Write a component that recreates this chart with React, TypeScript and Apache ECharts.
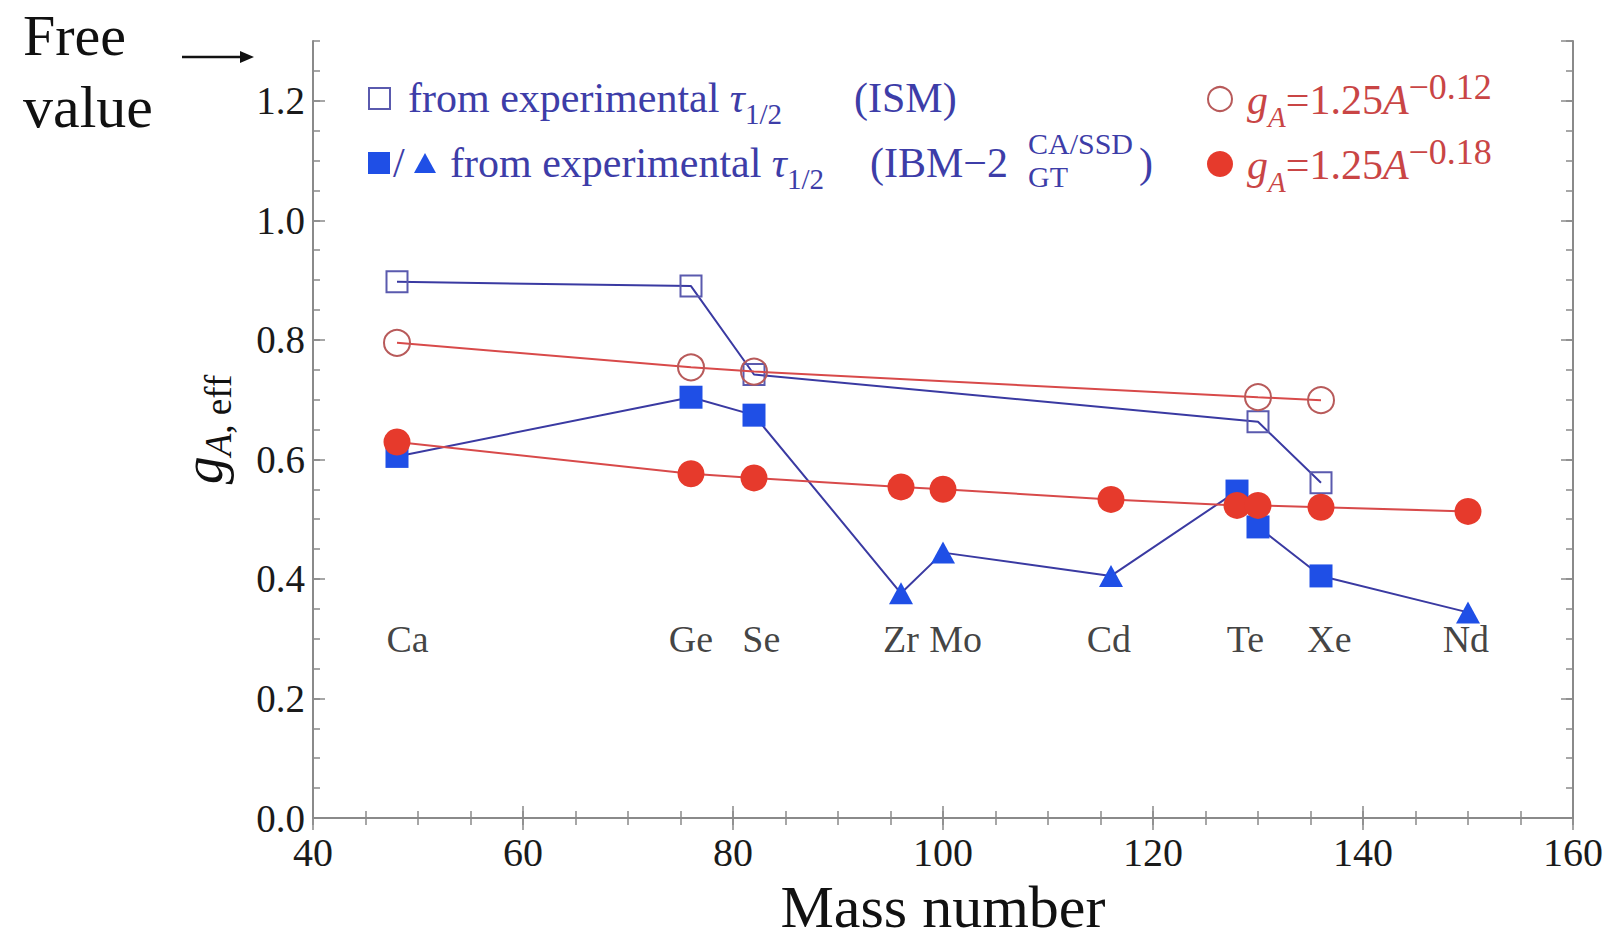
import React, { useEffect, useRef } from 'react';
import * as echarts from 'echarts';

// ---- data ----
const ismMass = [48, 76, 82, 130, 136];
const ismGA = [0.897, 0.89, 0.742, 0.663, 0.561];

const fit012Mass = [48, 76, 82, 130, 136];
const fit012GA = [0.795, 0.754, 0.747, 0.704, 0.699];

const fit018Mass = [48, 76, 82, 96, 100, 116, 128, 130, 136, 150];
const fit018GA = [0.629, 0.576, 0.569, 0.554, 0.55, 0.533, 0.523, 0.523, 0.52, 0.513];

const ibmMass = [48, 76, 82, 96, 100, 116, 128, 130, 136, 150];
const ibmGA = [0.605, 0.704, 0.674, 0.376, 0.444, 0.405, 0.547, 0.487, 0.405, 0.344];
const ibmKind = ['square', 'square', 'square', 'triangle', 'triangle', 'triangle', 'square', 'square', 'square', 'triangle'];

const elementNames = ['Ca', 'Ge', 'Se', 'Zr', 'Mo', 'Cd', 'Te', 'Xe', 'Nd'];
const elementLabelX = [49, 76, 82.7, 96, 101.2, 115.8, 128.8, 136.8, 149.8];
const elementLabelY = 0.3;

const xMin = 40, xMax = 160, xMajor = 20, xMinor = 5;
const yMin = 0, yMax = 1.3, yMajor = 0.2, yMinor = 0.05;

const FONT = '"Liberation Serif", "Times New Roman", serif';
const FRAME = '#8a8a8a';
const BLUE_TEXT = '#3d3da8';
const RED_TEXT = '#c94545';
const BLUE_LINE = '#3a3aa2';
const BLUE_FILL = '#1f4fe6';
const BLUE_OPEN = '#5a5aae';
const RED_LINE = '#d84a4a';
const RED_FILL = '#e63a2c';
const RED_OPEN = '#b85a5a';

function measure(text: string, font: string): number {
  const ctx = document.createElement('canvas').getContext('2d');
  if (!ctx) return text.length * 20;
  ctx.font = font;
  return ctx.measureText(text).width;
}

function makeXAxis(position: 'bottom' | 'top', major: boolean) {
  return {
    type: 'value',
    position,
    min: xMin,
    max: xMax,
    interval: major ? xMajor : xMinor,
    splitLine: { show: false },
    axisLine: { show: major, lineStyle: { color: FRAME, width: 2 } },
    axisTick: { show: true, inside: true, length: major ? 12 : 7, lineStyle: { color: FRAME, width: 1.5 } },
    axisLabel: major && position === 'bottom'
      ? { show: true, fontFamily: FONT, fontSize: 40, color: '#1a1a1a', margin: 14 }
      : { show: false },
    name: major && position === 'bottom' ? 'Mass number' : '',
    nameLocation: 'middle',
    nameGap: 48,
    nameTextStyle: { fontFamily: FONT, fontSize: 60, color: '#111' },
  };
}

function makeYAxis(position: 'left' | 'right', major: boolean) {
  return {
    type: 'value',
    position,
    min: yMin,
    max: yMax,
    interval: major ? yMajor : yMinor,
    splitLine: { show: false },
    axisLine: { show: major, lineStyle: { color: FRAME, width: 2 } },
    axisTick: { show: true, inside: true, length: major ? 12 : 7, lineStyle: { color: FRAME, width: 1.5 } },
    axisLabel: major && position === 'left'
      ? {
          show: true,
          fontFamily: FONT,
          fontSize: 39,
          color: '#1a1a1a',
          margin: 8,
          showMaxLabel: false,
          formatter: (v: number) => v.toFixed(1),
        }
      : { show: false },
    name: major && position === 'left' ? '{g|g}{a|A}{e|, eff}' : '',
    nameLocation: 'middle',
    nameRotate: 90,
    nameGap: 76,
    nameTextStyle: {
      fontFamily: FONT,
      color: '#111',
      rich: {
        g: { fontFamily: FONT, fontSize: 56, fontStyle: 'italic', color: '#111', lineHeight: 68, verticalAlign: 'middle' },
        a: { fontFamily: FONT, fontSize: 37, fontStyle: 'italic', color: '#111', lineHeight: 36, verticalAlign: 'bottom' },
        e: { fontFamily: FONT, fontSize: 37, color: '#111', lineHeight: 36, verticalAlign: 'bottom' },
      },
    },
  };
}

function buildLegend(): any[] {
  const els: any[] = [];
  const mainSize = 42;
  const subSize = 29;
  const tok = (size: number, italic: boolean, fill: string, valign: string, lh: number, padding?: number[]) => ({
    fontFamily: FONT,
    fontSize: size,
    fontStyle: italic ? 'italic' : 'normal',
    fill,
    color: fill,
    lineHeight: lh,
    verticalAlign: valign,
    padding: padding || [0, 0, 0, 0],
  });
  const blueRich = {
    n: tok(mainSize, false, BLUE_TEXT, 'middle', 60),
    t: tok(mainSize, true, BLUE_TEXT, 'middle', 60),
    s: tok(subSize, false, BLUE_TEXT, 'bottom', 30),
    p: tok(mainSize, false, BLUE_TEXT, 'middle', 60, [0, 0, 0, 72]),
    q: tok(mainSize, false, BLUE_TEXT, 'middle', 60, [0, 0, 0, 46]),
  };
  const row1Y = 98;
  const row2Y = 163;

  // row 1 marker: open square
  els.push({
    type: 'rect',
    shape: { x: 369, y: row1Y - 10, width: 21, height: 21 },
    style: { fill: 'none', stroke: BLUE_OPEN, lineWidth: 2 },
  });
  els.push({
    type: 'text',
    x: 408,
    y: row1Y,
    style: {
      text: '{n|from experimental }{t|τ}{s|1/2}{p|(ISM)}',
      rich: blueRich,
      verticalAlign: 'middle',
      align: 'left',
      fill: BLUE_TEXT,
      fontFamily: FONT,
      fontSize: mainSize,
    },
  });

  // row 2 markers: filled square / triangle
  els.push({
    type: 'rect',
    shape: { x: 368, y: row2Y - 11, width: 22, height: 22 },
    style: { fill: BLUE_FILL },
  });
  els.push({
    type: 'text',
    x: 393,
    y: row2Y,
    style: { text: '/', fill: BLUE_TEXT, fontFamily: FONT, fontSize: 42, verticalAlign: 'middle', align: 'left' },
  });
  els.push({
    type: 'polygon',
    shape: { points: [[414, row2Y + 10], [436, row2Y + 10], [425, row2Y - 10]] },
    style: { fill: BLUE_FILL },
  });
  const row2X = 450;
  els.push({
    type: 'text',
    x: row2X,
    y: row2Y,
    style: {
      text: '{n|from experimental }{t|τ}{s|1/2}{q|(IBM−2}',
      rich: blueRich,
      verticalAlign: 'middle',
      align: 'left',
      fill: BLUE_TEXT,
      fontFamily: FONT,
      fontSize: mainSize,
    },
  });
  const w =
    measure('from experimental ', `${mainSize}px ${FONT}`) +
    measure('τ', `italic ${mainSize}px ${FONT}`) +
    measure('1/2', `${subSize}px ${FONT}`) +
    46 +
    measure('(IBM−2', `${mainSize}px ${FONT}`);
  const scriptX = row2X + w + 20;
  const scriptSize = 30;
  els.push({
    type: 'text',
    x: scriptX,
    y: row2Y - 20,
    style: { text: 'CA/SSD', fill: BLUE_TEXT, fontFamily: FONT, fontSize: scriptSize, verticalAlign: 'middle', align: 'left' },
  });
  els.push({
    type: 'text',
    x: scriptX,
    y: row2Y + 13,
    style: { text: 'GT', fill: BLUE_TEXT, fontFamily: FONT, fontSize: scriptSize, verticalAlign: 'middle', align: 'left' },
  });
  const scriptW = measure('CA/SSD', `${scriptSize}px ${FONT}`);
  els.push({
    type: 'text',
    x: scriptX + scriptW + 6,
    y: row2Y,
    style: { text: ')', fill: BLUE_TEXT, fontFamily: FONT, fontSize: mainSize, verticalAlign: 'middle', align: 'left' },
  });

  // right column (red)
  const redRich = {
    g: tok(mainSize, true, RED_TEXT, 'middle', 62),
    a: tok(subSize, true, RED_TEXT, 'bottom', 30),
    n: tok(mainSize, false, RED_TEXT, 'middle', 62),
    A: tok(mainSize, true, RED_TEXT, 'middle', 62),
    e: tok(36, false, RED_TEXT, 'top', 34),
  };
  const cx = 1220;
  els.push({
    type: 'circle',
    shape: { cx, cy: row1Y + 1, r: 12 },
    style: { fill: 'none', stroke: RED_OPEN, lineWidth: 2 },
  });
  els.push({
    type: 'text',
    x: 1247,
    y: row1Y + 2,
    style: {
      text: '{g|g}{a|A}{n|=1.25}{A|A}{e|−0.12}',
      rich: redRich,
      verticalAlign: 'middle',
      align: 'left',
      fill: RED_TEXT,
      fontFamily: FONT,
      fontSize: mainSize,
    },
  });
  els.push({
    type: 'circle',
    shape: { cx, cy: row2Y + 1, r: 13 },
    style: { fill: RED_FILL },
  });
  els.push({
    type: 'text',
    x: 1247,
    y: row2Y + 2,
    style: {
      text: '{g|g}{a|A}{n|=1.25}{A|A}{e|−0.18}',
      rich: redRich,
      verticalAlign: 'middle',
      align: 'left',
      fill: RED_TEXT,
      fontFamily: FONT,
      fontSize: mainSize,
    },
  });

  // "Free value" annotation with arrow
  els.push({
    type: 'text',
    x: 23,
    y: 35,
    style: { text: 'Free', fill: '#111', fontFamily: FONT, fontSize: 58, verticalAlign: 'middle', align: 'left' },
  });
  els.push({
    type: 'text',
    x: 23,
    y: 107,
    style: { text: 'value', fill: '#111', fontFamily: FONT, fontSize: 60, verticalAlign: 'middle', align: 'left' },
  });
  els.push({
    type: 'line',
    shape: { x1: 182, y1: 57, x2: 242, y2: 57 },
    style: { stroke: '#111', lineWidth: 2.5 },
  });
  els.push({
    type: 'polygon',
    shape: { points: [[240, 51], [254, 57], [240, 63]] },
    style: { fill: '#111' },
  });
  return els;
}

export default function App() {
  const ref = useRef<HTMLDivElement>(null);

  useEffect(() => {
    if (!ref.current) return;
    const chart = echarts.init(ref.current, undefined, { renderer: 'svg' });

    const zip = (xs: number[], ys: number[]) => xs.map((x, i) => [x, ys[i]]);

    const option: any = {
      animation: false,
      backgroundColor: '#ffffff',
      grid: { left: 313, right: 35, top: 41, bottom: 129, containLabel: false },
      xAxis: [makeXAxis('bottom', true), makeXAxis('bottom', false), makeXAxis('top', true), makeXAxis('top', false)],
      yAxis: [makeYAxis('left', true), makeYAxis('left', false), makeYAxis('right', true), makeYAxis('right', false)],
      graphic: buildLegend(),
      series: [
        {
          name: 'ISM',
          type: 'line',
          data: zip(ismMass, ismGA),
          symbol: 'rect',
          symbolSize: 21,
          showAllSymbol: true,
          lineStyle: { color: BLUE_LINE, width: 2 },
          itemStyle: { color: 'transparent', borderColor: BLUE_OPEN, borderWidth: 2 },
          z: 3,
        },
        {
          name: 'IBM-2',
          type: 'line',
          data: ibmMass.map((x, i) => ({
            value: [x, ibmGA[i]],
            symbol: ibmKind[i] === 'square' ? 'rect' : 'triangle',
            symbolSize: ibmKind[i] === 'square' ? 23 : [24, 22],
          })),
          showAllSymbol: true,
          lineStyle: { color: BLUE_LINE, width: 2 },
          itemStyle: { color: BLUE_FILL },
          z: 3,
        },
        {
          name: 'gA=1.25A^-0.12',
          type: 'line',
          data: zip(fit012Mass, fit012GA),
          symbol: 'circle',
          symbolSize: 26,
          showAllSymbol: true,
          lineStyle: { color: RED_LINE, width: 2 },
          itemStyle: { color: 'transparent', borderColor: RED_OPEN, borderWidth: 2 },
          z: 4,
        },
        {
          name: 'gA=1.25A^-0.18',
          type: 'line',
          data: zip(fit018Mass, fit018GA),
          symbol: 'circle',
          symbolSize: 27,
          showAllSymbol: true,
          lineStyle: { color: RED_LINE, width: 2 },
          itemStyle: { color: RED_FILL },
          z: 5,
        },
        {
          name: 'elements',
          type: 'scatter',
          data: elementNames.map((n, i) => [elementLabelX[i], elementLabelY, n]),
          symbol: 'circle',
          symbolSize: 1,
          silent: true,
          itemStyle: { color: 'transparent' },
          label: {
            show: true,
            position: 'inside',
            formatter: (p: any) => p.data[2],
            fontFamily: FONT,
            fontSize: 38,
            color: '#111',
          },
          z: 6,
        },
      ],
    };

    chart.setOption(option);
    return () => chart.dispose();
  }, []);

  return (
    <div
      ref={ref}
      style={{ position: 'fixed', left: 0, top: 0, width: '1608px', height: '947px', background: '#fff' }}
    />
  );
}
